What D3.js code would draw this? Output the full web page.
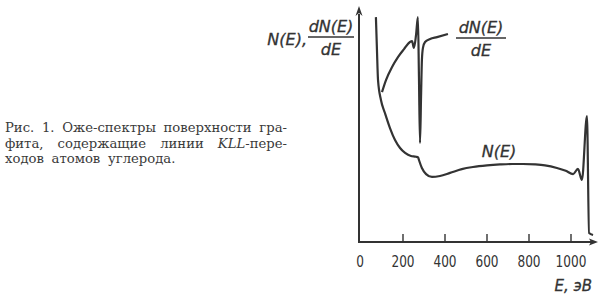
<!DOCTYPE html>
<html>
<head>
<meta charset="utf-8">
<script src="https://cdn.jsdelivr.net/npm/d3@7"></script>
<style>
  body { margin: 0; background: #fff; }
  svg { display: block; }
</style>
</head>
<body>
<svg id="chart" width="602" height="298"></svg>
<script>
// energy in eV, intensity in arbitrary units (0..100 = axis height)
var ne_energy = [71, 76, 81, 95, 114, 138, 162, 186, 210, 238, 262, 272, 276, 290, 310, 338, 376, 424, 480, 533, 600, 662, 720, 771, 830, 876, 933, 975, 1010, 1033, 1052, 1076, 1086, 1105];
var ne_value  = [95.7, 81.7, 69, 60.4, 54.9, 48.5, 43.4, 40, 37.9, 36.6, 36.3, 36, 34.9, 31.5, 28.9, 27.7, 28.1, 29.4, 31, 31.9, 32.6, 33, 33.2, 33.2, 33, 32.6, 31.5, 30.3, 28.9, 31.1, 26.4, 53.6, 3.8, 3.0];

var dne_energy = [100, 119, 148, 176, 205, 233, 243, 252, 262, 271, 276, 281, 286, 290, 295, 305, 329, 362, 414];
var dne_value  = [63.8, 68.9, 74.5, 78.7, 82.1, 85.1, 85.5, 82.6, 88, 95.7, 70, 42.1, 62, 77.4, 82.6, 85.1, 86.4, 87.2, 88.5];

var tick_values = [0, 200, 400, 600, 800, 1000];
var tick_labels = ["0", "200", "400", "600", "800", "1000"];

// caption words per line, italic parts between *
var caption_lines = [
    ["Рис.", "1.", "Оже-спектры", "поверхности", "гра-"],
    ["фита,", "содержащие", "линии", "*KLL*-пере-"],
    ["ходов", "атомов", "углерода."]
];

var ink = "#333";

var svg = d3.select("#chart");

var x = d3.scaleLinear().domain([0, 1000]).range([361, 571]);
var y = d3.scaleLinear().domain([0, 100]).range([242, 7]);

var ne_data = ne_energy.map(function (e, i) { return { e: e, v: ne_value[i] }; });
var dne_data = dne_energy.map(function (e, i) { return { e: e, v: dne_value[i] }; });

var lineFunction = d3.line()
    .x(function (d) { return x(d.e); })
    .y(function (d) { return y(d.v); })
    .curve(d3.curveMonotoneX);

// axes
var axisX0 = 359;
svg.append("line")
    .attr("x1", axisX0).attr("y1", y(0))
    .attr("x2", 592).attr("y2", y(0))
    .attr("stroke", ink).attr("stroke-width", 2);
svg.append("path")
    .attr("d", "M598," + y(0) + " L589," + (y(0) - 3.5) + " L591," + y(0) + " L589," + (y(0) + 3.5) + " Z")
    .attr("fill", ink);

svg.append("line")
    .attr("x1", axisX0).attr("y1", y(0) + 1)
    .attr("x2", axisX0).attr("y2", 14)
    .attr("stroke", ink).attr("stroke-width", 2);
svg.append("path")
    .attr("d", "M" + axisX0 + ",6 L" + (axisX0 - 3.5) + ",16 L" + axisX0 + ",13 L" + (axisX0 + 3.5) + ",16 Z")
    .attr("fill", ink);

// ticks point up from the axis (none at 0)
svg.selectAll(".tick").data(tick_values.slice(1)).enter().append("line")
    .attr("x1", function (d) { return x(d); })
    .attr("x2", function (d) { return x(d); })
    .attr("y1", y(0))
    .attr("y2", y(0) - 8)
    .attr("stroke", ink).attr("stroke-width", 1.4);

// narrow digits: squeeze each label to the printed width
svg.selectAll(".ticklabel").data(tick_values).enter().append("text")
    .attr("x", function (d) { return d === 0 ? 360 : x(d); })
    .attr("y", 267)
    .attr("text-anchor", "middle")
    .attr("font-family", "'DejaVu Sans Condensed', 'DejaVu Sans', sans-serif")
    .attr("font-size", 16)
    .attr("fill", ink)
    .attr("textLength", function (d, i) { return tick_labels[i].length * 7.7; })
    .attr("lengthAdjust", "spacingAndGlyphs")
    .text(function (d, i) { return tick_labels[i]; });

// curves
svg.append("path")
    .attr("d", lineFunction(ne_data))
    .attr("fill", "none").attr("stroke", ink)
    .attr("stroke-width", 2.2).attr("stroke-linejoin", "round");
svg.append("path")
    .attr("d", lineFunction(dne_data))
    .attr("fill", "none").attr("stroke", ink)
    .attr("stroke-width", 2.2).attr("stroke-linejoin", "round");

// labels
var labelFont = "'DejaVu Sans', sans-serif";
function label(tx, ty, str, size, anchor) {
    return svg.append("text")
        .attr("x", tx).attr("y", ty)
        .attr("text-anchor", anchor || "middle")
        .attr("font-family", labelFont)
        .attr("font-style", "italic")
        .attr("font-size", size)
        .attr("fill", ink)
        .attr("stroke", ink).attr("stroke-width", 0.3)
        .text(str);
}
function fraction(cx, top, w) {
    label(cx, top, "dN(E)", 16);
    svg.append("line")
        .attr("x1", cx - w / 2).attr("x2", cx + w / 2)
        .attr("y1", top + 5).attr("y2", top + 5)
        .attr("stroke", ink).attr("stroke-width", 1.3);
    label(cx, top + 23, "dE", 16);
}

label(307, 45, "N(E),", 16, "end");
fraction(331, 32, 46);
fraction(481, 33, 50);
label(499, 157, "N(E)", 16);
label(592, 291, "E, эВ", 15, "end");

// caption, justified word by word; last line keeps the first line's spacing
var cap = svg.append("g")
    .attr("font-family", "'DejaVu Serif', 'Liberation Serif', serif")
    .attr("font-size", 13.2)
    .attr("fill", "#3a3a3a");
var capLeft = 5, capRight = 287;
var firstGap = 6;
caption_lines.forEach(function (words, i) {
    var yy = 132 + i * 15.5;
    var nodes = words.map(function (w) {
        var t = cap.append("text").attr("y", yy);
        var parts = w.split("*");
        parts.forEach(function (p, k) {
            if (p === "") return;
            var ts = t.append("tspan").text(p);
            if (k % 2 === 1) ts.attr("font-style", "italic");
        });
        return t;
    });
    var widths = nodes.map(function (t) { return t.node().getComputedTextLength(); });
    var total = d3.sum(widths);
    var gap;
    if (i < 2) {
        gap = (capRight - capLeft - total) / (words.length - 1);
        if (i === 0) firstGap = gap;
    } else {
        gap = firstGap;
    }
    var cx = capLeft;
    nodes.forEach(function (t, k) {
        t.attr("x", cx);
        cx += widths[k] + gap;
    });
});
</script>
</body>
</html>
